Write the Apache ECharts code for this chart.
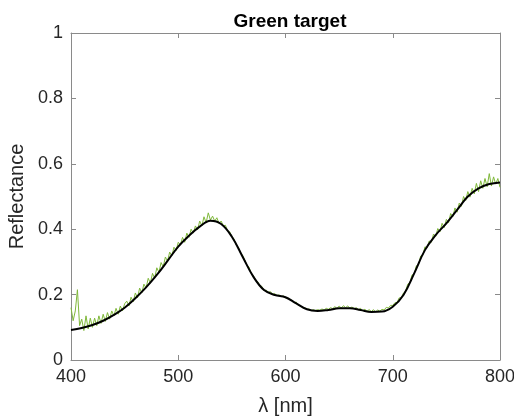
<!DOCTYPE html>
<html>
<head>
<meta charset="utf-8">
<script src="https://cdn.jsdelivr.net/npm/echarts@6/dist/echarts.min.js"></script>
<style>html,body{margin:0;padding:0;background:#fff}#c{width:514px;height:417px}</style>
</head>
<body>
<div id="c"></div>
<script>
var titleText = 'Green target';
var xLabel = 'λ [nm]';
var yLabel = 'Reflectance';

// Smooth fit (black), every 10 nm from 400 to 800
var fitWavelengths = [400,410,420,430,440,450,460,470,480,490,500,510,520,530,540,550,560,570,580,590,600,610,620,630,640,650,660,670,680,690,700,710,720,730,740,750,760,770,780,790,800];
var fitValues = [0.092,0.098,0.107,0.120,0.138,0.160,0.189,0.222,0.260,0.303,0.347,0.380,0.408,0.426,0.416,0.377,0.316,0.255,0.214,0.199,0.192,0.173,0.155,0.150,0.153,0.158,0.158,0.153,0.147,0.148,0.163,0.199,0.265,0.336,0.382,0.418,0.459,0.500,0.525,0.538,0.543];

// Measured spectrum (green), every 2 nm from 400 to 800
var measStart = 400, measStep = 2;
var measValues = [
0.160,0.120,0.150,0.215,0.105,0.125,0.090,0.135,0.095,0.128,0.100,
0.128,0.105,0.135,0.112,0.140,0.118,0.145,0.125,0.150,0.135,0.158,0.140,0.165,0.150,0.172,
0.180,0.165,0.192,0.178,0.205,0.190,0.220,0.205,0.232,0.220,0.250,0.235,0.265,0.250,0.282,0.268,0.298,0.285,0.315,0.302,0.330,0.318,0.345,0.335,0.360,
0.352,0.375,0.360,0.388,0.375,0.400,0.388,0.410,0.398,0.425,0.410,0.438,0.420,0.450,0.428,
0.440,0.425,0.435,0.418,0.425,0.410,0.412,0.395,0.392,0.378,0.370,0.352,0.345,0.328,0.320,
0.306,0.290,0.284,0.265,0.258,0.244,0.240,0.228,0.225,0.212,0.214,0.207,0.209,0.201,0.203,0.197,0.199,0.194,0.196,0.190,
0.191,0.185,0.183,0.175,0.177,0.167,0.167,0.159,0.160,0.155,0.156,0.151,0.154,0.151,0.154,0.152,0.156,0.153,0.158,0.155,
0.160,0.157,0.163,0.158,0.165,0.159,0.166,0.160,0.165,0.159,0.162,0.157,0.160,0.154,0.158,0.151,0.155,0.149,0.154,0.148,
0.154,0.147,0.153,0.149,0.155,0.153,0.161,0.159,0.167,0.167,
0.175,0.176,0.190,0.190,0.205,0.211,0.232,0.237,0.260,0.263,0.288,0.291,0.318,0.320,0.346,0.343,0.364,0.360,0.385,0.378,
0.402,0.392,0.418,0.405,0.430,0.420,0.448,0.438,0.465,0.452,0.480,0.470,0.500,0.488,0.515,0.498,0.525,0.508,0.540,0.515,
0.548,0.525,0.555,0.530,0.570,0.532,0.560,0.538,0.555,0.528
];

var xTicks = [400,500,600,700,800];
var yTicks = [0,0.2,0.4,0.6,0.8,1];

var fitData = fitWavelengths.map(function(w,i){return [w, fitValues[i]];});
var measData = measValues.map(function(v,i){return [measStart + i*measStep, v];});

var axisCol = '#8a8a8a';
var txtCol = '#262626';
var fontFam = '"Liberation Sans", Arial, Helvetica, sans-serif';

var chart = echarts.init(document.getElementById('c'), null, {renderer:'canvas'});
chart.setOption({
  animation: false,
  backgroundColor: '#fff',
  title: {
    text: titleText, left: 285, top: 7, textAlign: 'center',
    textStyle: {fontSize: 19, fontWeight: 'bold', color: '#000', fontFamily: fontFam}
  },
  grid: {left: 71, right: 14, top: 33, bottom: 57, containLabel: false, outerBoundsMode: 'none'},
  xAxis: [{
    type: 'value', min: xTicks[0], max: xTicks[xTicks.length-1], interval: 100,
    position: 'bottom',
    name: xLabel, nameLocation: 'middle', nameGap: 36,
    nameTextStyle: {fontSize: 20, color: txtCol, fontFamily: fontFam},
    axisLine: {show: true, onZero: false, lineStyle: {color: axisCol, width: 1}},
    axisTick: {show: true, inside: true, length: 5, lineStyle: {color: axisCol}},
    axisLabel: {fontSize: 18, color: txtCol, margin: 8, fontFamily: fontFam, hideOverlap: false},
    splitLine: {show: false}
  }, {
    type: 'value', min: xTicks[0], max: xTicks[xTicks.length-1], interval: 100,
    position: 'top',
    axisLine: {show: true, onZero: false, lineStyle: {color: axisCol, width: 1}},
    axisTick: {show: true, inside: true, length: 5, lineStyle: {color: axisCol}},
    axisLabel: {show: false},
    splitLine: {show: false}
  }],
  yAxis: [{
    type: 'value', min: yTicks[0], max: yTicks[yTicks.length-1], interval: 0.2,
    position: 'left',
    name: yLabel, nameLocation: 'middle', nameGap: 36,
    nameTextStyle: {fontSize: 20, color: txtCol, fontFamily: fontFam},
    axisLine: {show: true, onZero: false, lineStyle: {color: axisCol, width: 1}},
    axisTick: {show: true, inside: true, length: 5, lineStyle: {color: axisCol}},
    axisLabel: {fontSize: 18, color: txtCol, margin: 8, fontFamily: fontFam},
    splitLine: {show: false}
  }, {
    type: 'value', min: yTicks[0], max: yTicks[yTicks.length-1], interval: 0.2,
    position: 'right',
    axisLine: {show: true, onZero: false, lineStyle: {color: axisCol, width: 1}},
    axisTick: {show: true, inside: true, length: 5, lineStyle: {color: axisCol}},
    axisLabel: {show: false},
    splitLine: {show: false}
  }],
  series: [{
    type: 'line', name: 'measured', data: measData,
    xAxisIndex: 0, yAxisIndex: 0,
    showSymbol: false, symbol: 'none',
    lineStyle: {color: '#7fb83a', width: 1},
    z: 2
  }, {
    type: 'line', name: 'fit', data: fitData,
    xAxisIndex: 0, yAxisIndex: 0,
    showSymbol: false, symbol: 'none', smooth: 0.4,
    lineStyle: {color: '#000', width: 2},
    z: 3
  }]
});
</script>
</body>
</html>
